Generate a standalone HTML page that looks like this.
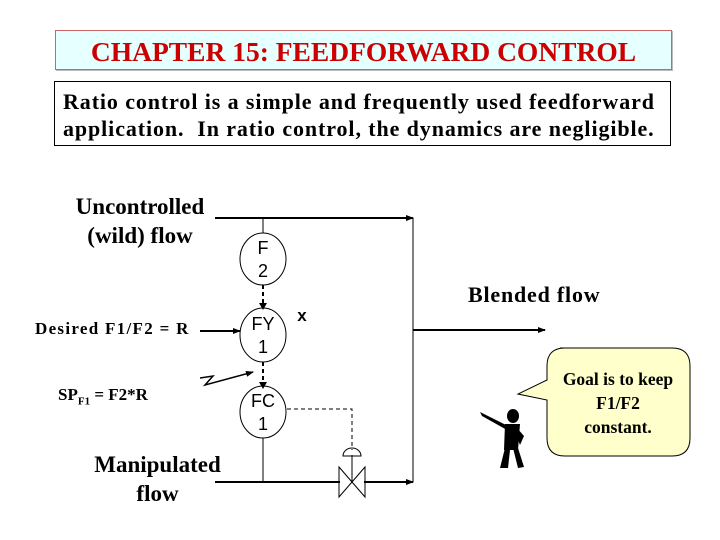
<!DOCTYPE html>
<html><head><style>
body{margin:0;width:720px;height:540px;background:#fff;overflow:hidden;position:relative;font-family:"Liberation Serif",serif}
.t{position:absolute}
</style></head><body>
<div class="t" style="left:55px;top:30px;width:615px;height:38px;border:1px solid #c66;background:#e6ffff;box-shadow:1px 1px 0 #bbb;color:#cc0000;font-size:27.5px;font-weight:bold;text-align:center;line-height:42px;white-space:nowrap">CHAPTER 15: FEEDFORWARD CONTROL</div>
<div class="t" style="left:54px;top:81px;width:617px;height:65px;border:1px solid #000;font-size:22px;font-weight:bold;letter-spacing:0.9px;line-height:27px;padding-left:8px;box-sizing:border-box;padding-top:6px;white-space:nowrap">Ratio control is a simple and frequently used feedforward<br>application.&nbsp; In ratio control, the dynamics are negligible.</div>
<div class="t" style="left:50px;top:192px;width:180px;text-align:center;font-size:23px;font-weight:bold;line-height:29px">Uncontrolled<br>(wild) flow</div>
<div class="t" style="left:35px;top:319px;font-size:17px;letter-spacing:1.3px;font-weight:bold">Desired F1/F2 = R</div>
<div class="t" style="left:58px;top:385px;font-size:17px;font-weight:bold">SP<sub style="font-size:11px">F1</sub> = F2*R</div>
<div class="t" style="left:65px;top:450px;width:185px;text-align:center;font-size:23px;font-weight:bold;line-height:29px">Manipulated<br>flow</div>
<div class="t" style="left:468px;top:282px;font-size:22px;letter-spacing:0.8px;font-weight:bold">Blended flow</div>
<svg class="t" style="left:0;top:0" width="720" height="540">
<defs><marker id="a" markerWidth="8" markerHeight="8" refX="7" refY="4" orient="auto" markerUnits="userSpaceOnUse"><path d="M0,1L8,4L0,7z"/></marker></defs>
<g stroke="#000" stroke-width="2" fill="none">
<line x1="215" y1="218" x2="413" y2="218" marker-end="url(#a)"/>
<line x1="215" y1="482" x2="340" y2="482"/>
<line x1="364" y1="482" x2="413" y2="482" marker-end="url(#a)"/>
<line x1="413" y1="330" x2="545" y2="330" marker-end="url(#a)"/>
<line x1="200" y1="331" x2="240" y2="331" marker-end="url(#a)"/>
<polyline points="200,378 213,376 205,385 253,372" stroke-width="1.5" marker-end="url(#a)"/>
</g>
<g stroke="#000" stroke-width="1" fill="none">
<line x1="413" y1="218" x2="413" y2="482"/>
<line x1="263" y1="218" x2="263" y2="233"/>
<line x1="263" y1="438" x2="263" y2="482"/>
<line x1="352" y1="455" x2="352" y2="482"/>
<ellipse cx="263" cy="259" rx="23" ry="26" fill="#fff"/>
<ellipse cx="263" cy="335" rx="23" ry="27" fill="#fff"/>
<ellipse cx="263" cy="412" rx="23" ry="26" fill="#fff"/>
<polyline points="287,409 352,409 352,450" stroke-dasharray="4,3"/>
<path d="M343,456 A9,8 0 0 1 361,456 Z"/>
<path d="M339,467 L365,497 L365,467 L339,497 Z"/>
</g>
<g stroke="#000" stroke-width="2" stroke-dasharray="4,3">
<line x1="263" y1="285" x2="263" y2="305"/>
<line x1="263" y1="362" x2="263" y2="384"/>
</g>
<path d="M259,303 L267,303 L263,310z M259,382 L267,382 L263,389z"/>
<g font-family="Liberation Sans,sans-serif" font-size="18" text-anchor="middle">
<text x="263" y="254">F</text><text x="263" y="277">2</text>
<text x="263" y="330">FY</text><text x="263" y="353">1</text>
<text x="263" y="407">FC</text><text x="263" y="430">1</text>
<text x="302" y="321" font-size="17" font-weight="bold">x</text>
</g>
<path d="M560,348 H672 Q690,348 690,366 V438 Q690,456 672,456 H565 Q547,456 547,438 V400 L518,394 L547,380 V366 Q547,348 565,348 Z" fill="#ffffcc" stroke="#000"/>
<text x="618" y="385" font-size="17.5" font-weight="bold" text-anchor="middle">Goal is to keep</text>
<text x="618" y="409" font-size="17.5" font-weight="bold" text-anchor="middle">F1/F2</text>
<text x="618" y="433" font-size="17.5" font-weight="bold" text-anchor="middle">constant.</text>
<g fill="#000">
<ellipse cx="513" cy="416" rx="6" ry="7"/>
<path d="M480,412 L508,426 L507,430 L482,416z"/>
<path d="M505,424 L520,424 L518,450 L504,450z"/>
<path d="M505,448 L500,468 L508,468 L510,450z M513,448 L518,468 L524,467 L518,448z"/>
<path d="M517,428 L524,436 L520,445 L518,440z"/>
</g>
</svg>
</body></html>
